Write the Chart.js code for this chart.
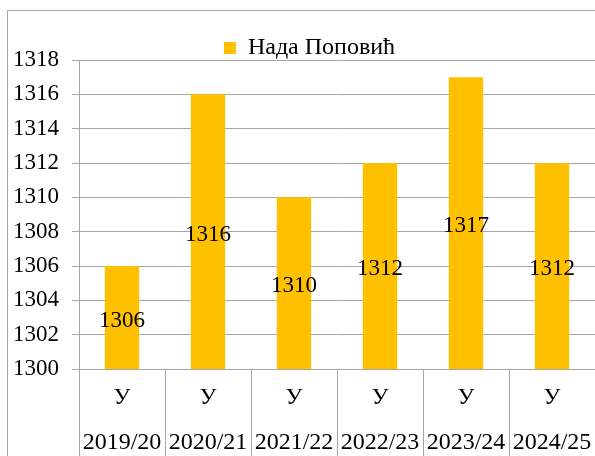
<!DOCTYPE html>
<html>
<head>
<meta charset="utf-8">
<script src="https://cdn.jsdelivr.net/npm/chart.js@4"></script>
<style>
  html, body { margin: 0; padding: 0; background: #fff; overflow: hidden; }
  #frame { position: absolute; left: 7px; top: 10px; width: 700px; height: 600px; border: 1px solid #a6a6a6; }
  #wrap { position: absolute; left: 0; top: 0; width: 595px; height: 456px; }
</style>
</head>
<body>
<div id="frame"></div>
<div id="wrap"><canvas id="chart" width="595" height="456"></canvas></div>
<script>
const seriesName = 'Нада Поповић';
const letters = ['У', 'У', 'У', 'У', 'У', 'У'];
const seasons = ['2019/20', '2020/21', '2021/22', '2022/23', '2023/24', '2024/25'];
const values = [1306, 1316, 1310, 1312, 1317, 1312];
const yMin = 1300;
const yMax = 1318;
const yStep = 2;

const serif = '"Liberation Serif", "Times New Roman", serif';
const gridColor = '#a6a6a6';
const barColor = '#FFC000';

// value labels in the middle of the visible part of each bar
const barLabels = {
    id: 'barLabels',
    afterDatasetsDraw(chart) {
        const ctx = chart.ctx;
        const meta = chart.getDatasetMeta(0);
        const bottom = chart.scales.y.getPixelForValue(yMin);
        ctx.save();
        ctx.font = '23px ' + serif;
        ctx.fillStyle = '#000';
        ctx.textAlign = 'center';
        ctx.textBaseline = 'middle';
        meta.data.forEach((bar, i) => {
            ctx.fillText(String(values[i]), bar.x, (bar.y + bottom) / 2 + 3);
        });
        ctx.restore();
    }
};

// pull the legend closer to the plot and a little to the right
const tightLegend = {
    id: 'tightLegend',
    afterInit(chart) {
        const legend = chart.legend;
        const fit = legend.fit;
        legend.fit = function () {
            fit.call(this);
            this.height -= 10;
        };
    },
    afterLayout(chart) {
        chart.legend.left += 24;
    }
};

const chart = new Chart(document.getElementById('chart').getContext('2d'), {
    type: 'bar',
    data: {
        labels: letters.map((l, i) => [l, seasons[i]]),
        datasets: [{
            label: seriesName,
            data: values,
            backgroundColor: barColor,
            borderWidth: 0,
            categoryPercentage: 1,
            barPercentage: 0.4
        }]
    },
    plugins: [barLabels, tightLegend],
    options: {
        responsive: false,
        animation: false,
        layout: {
            padding: { left: 0, right: 0, top: 36, bottom: 0 }
        },
        plugins: {
            legend: {
                labels: {
                    boxWidth: 12,
                    boxHeight: 12,
                    padding: 0,
                    color: '#000',
                    font: { family: serif, size: 24 }
                }
            },
            tooltip: { enabled: false }
        },
        scales: {
            x: {
                grid: {
                    color: gridColor,
                    drawOnChartArea: false,
                    tickLength: 90
                },
                border: { color: gridColor },
                ticks: {
                    color: '#000',
                    padding: -84,
                    autoSkip: false,
                    maxRotation: 0,
                    font: { family: serif, size: 24, lineHeight: 1.875 }
                },
                afterFit(scale) { scale.height = 87; }
            },
            y: {
                min: yMin,
                max: yMax,
                grid: { color: gridColor, tickLength: 7 },
                border: { color: gridColor },
                ticks: {
                    stepSize: yStep,
                    color: '#000',
                    padding: 13,
                    font: { family: serif, size: 23 },
                    callback: v => String(v)
                },
                afterFit(scale) { scale.width = 79; }
            }
        }
    }
});
</script>
</body>
</html>
